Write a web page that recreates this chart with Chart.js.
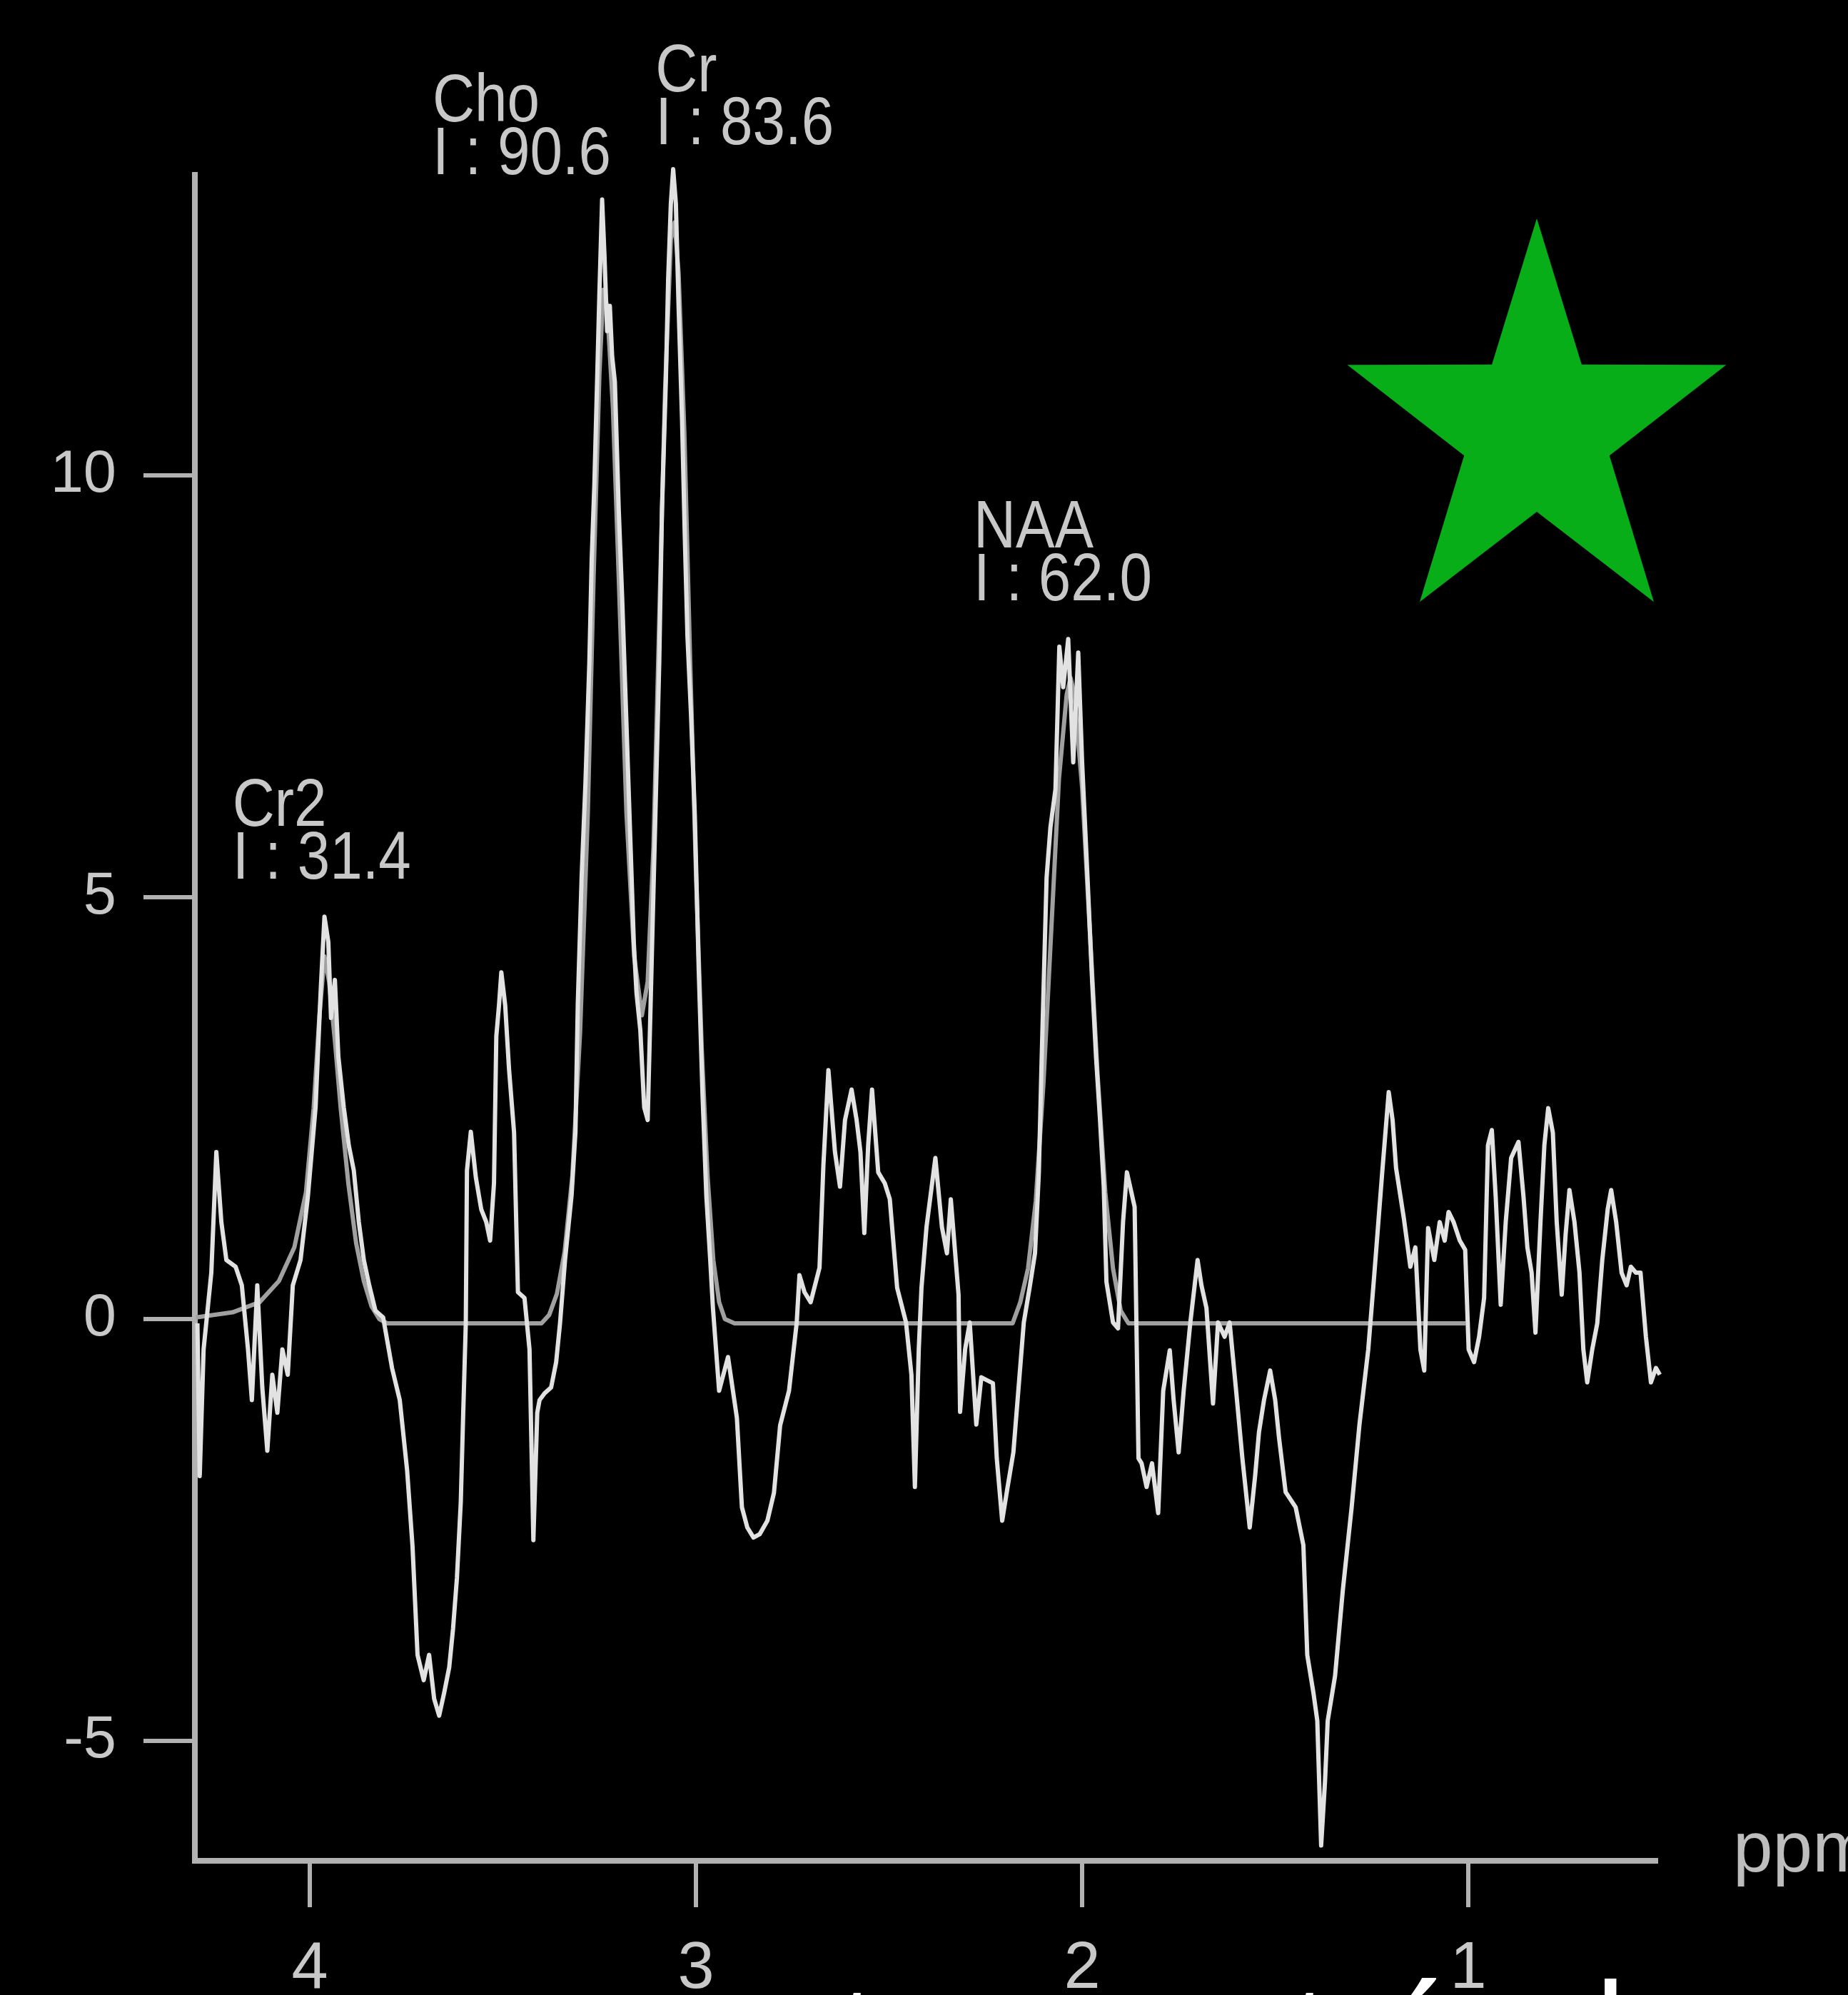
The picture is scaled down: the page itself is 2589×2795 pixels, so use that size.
<!DOCTYPE html>
<html>
<head>
<meta charset="utf-8">
<style>
  html, body { margin: 0; padding: 0; background: #000; overflow: hidden; }
  canvas { display: block; }
</style>
<script src="https://cdn.jsdelivr.net/npm/chart.js@4.4.1/dist/chart.umd.min.js"></script>
</head>
<body>
<canvas id="c" width="2589" height="2795"></canvas>
<script>
// ---------- data ----------
const spectrumPpm = [
  4.291,4.285,4.275,4.255,4.242,4.229,4.216,4.192,4.176,4.160,4.150,4.136,4.123,4.110,4.097,4.084,4.071,4.057,4.044,4.024,
  4.005,3.985,3.972,3.962,3.952,3.945,3.935,3.926,3.912,3.899,3.886,3.873,3.860,3.846,3.830,3.810,3.787,3.767,3.748,3.734,
  3.721,3.705,3.691,3.678,3.665,3.652,3.639,3.629,3.619,3.609,3.603,3.596,3.593,3.583,3.570,3.556,3.543,3.533,3.523,3.517,
  3.510,3.504,3.494,3.484,3.471,3.461,3.444,3.431,3.421,3.411,3.405,3.392,3.375,3.362,3.352,3.339,3.322,3.312,3.306,3.296,
  3.286,3.276,3.270,3.263,3.256,3.250,3.243,3.237,3.230,3.223,3.217,3.210,3.200,3.191,3.181,3.171,3.161,3.154,3.144,3.134,
  3.125,3.115,3.105,3.095,3.088,3.078,3.072,3.065,3.059,3.052,3.045,3.036,3.029,3.022,3.013,3.003,2.993,2.983,2.973,2.963,
  2.956,2.940,2.917,2.894,2.881,2.867,2.851,2.835,2.815,2.798,2.782,2.759,2.739,2.732,2.719,2.703,2.680,2.670,2.657,2.640,
  2.627,2.614,2.597,2.584,2.574,2.564,2.554,2.544,2.528,2.511,2.498,2.479,2.456,2.442,2.433,2.423,2.416,2.403,2.380,2.363,
  2.350,2.340,2.320,2.316,2.303,2.291,2.274,2.261,2.244,2.231,2.221,2.207,2.194,2.178,2.151,2.135,2.122,2.112,2.105,2.092,
  2.082,2.069,2.059,2.049,2.036,2.023,2.010,2.000,1.986,1.974,1.964,1.954,1.944,1.937,1.920,1.907,1.894,1.884,1.864,1.854,
  1.846,1.833,1.819,1.803,1.790,1.773,1.763,1.750,1.737,1.720,1.701,1.691,1.678,1.661,1.648,1.631,1.618,1.602,1.585,1.566,
  1.552,1.542,1.529,1.513,1.500,1.490,1.473,1.447,1.427,1.417,1.401,1.391,1.381,1.371,1.364,1.345,1.325,1.302,1.282,1.259,
  1.243,1.223,1.206,1.196,1.187,1.167,1.150,1.137,1.124,1.114,1.104,1.088,1.074,1.061,1.051,1.038,1.022,1.008,0.999,0.985,
  0.972,0.959,0.949,0.939,0.929,0.916,0.903,0.889,0.870,0.857,0.847,0.836,0.826,0.813,0.803,0.793,0.781,0.771,0.758,0.748,
  0.738,0.725,0.712,0.702,0.692,0.679,0.666,0.653,0.639,0.630,0.617,0.603,0.590,0.579,0.566,0.554,0.540,0.527,0.514,0.504
];
const spectrumVal = [
  -0.05,-1.86,-0.36,0.55,1.98,1.15,0.70,0.62,0.40,-0.36,-0.96,0.40,-0.81,-1.56,-0.66,-1.11,-0.36,-0.66,0.40,0.70,
  1.45,2.51,3.87,4.77,4.47,3.57,4.02,3.11,2.51,2.06,1.76,1.15,0.70,0.40,0.10,0.02,-0.58,-0.96,-1.79,-2.69,
  -3.98,-4.28,-3.98,-4.50,-4.70,-4.43,-4.13,-3.67,-3.07,-2.17,-1.17,-0.05,1.76,2.22,1.68,1.30,1.15,0.93,1.61,3.35,
  3.72,4.11,3.72,2.96,2.21,0.32,0.25,-0.36,-2.62,-1.11,-0.96,-0.88,-0.81,-0.51,-0.05,0.70,1.47,2.22,3.73,5.24,
  6.37,7.79,9.00,9.90,11.11,12.16,13.27,12.62,11.71,12.01,11.41,11.11,9.60,8.54,7.19,5.83,4.47,3.87,3.42,2.51,
  2.36,4.17,5.98,7.79,9.60,11.11,12.32,13.22,13.63,13.22,12.01,10.66,9.30,8.09,7.19,5.98,4.17,2.66,1.45,0.70,
  0.13,-0.85,-0.45,-1.17,-2.23,-2.47,-2.59,-2.55,-2.39,-2.06,-1.26,-0.85,-0.04,0.52,0.32,0.20,0.61,1.82,2.95,1.98,
  1.57,2.36,2.72,2.36,1.98,1.02,2.06,2.72,1.74,1.61,1.42,0.37,-0.04,-0.66,-1.99,-0.36,0.37,1.09,1.91,1.09,
  0.78,1.42,0.29,-1.10,-0.36,-0.04,-1.25,-0.69,-0.73,-0.76,-1.65,-2.39,-2.02,-1.58,-0.04,0.40,0.78,1.74,3.04,5.23,
  5.83,6.28,7.97,7.49,8.06,6.60,7.90,6.60,5.23,4.00,3.11,2.39,1.57,0.44,-0.04,-0.11,1.15,1.74,1.33,-1.65,
  -1.71,-1.99,-1.71,-2.30,-0.85,-0.37,-0.96,-1.58,-0.85,-0.05,0.70,0.40,0.13,-1.00,-0.04,-0.21,-0.04,-0.81,-1.65,-2.47,
  -1.86,-1.34,-0.96,-0.61,-0.96,-1.41,-2.05,-2.23,-2.68,-3.98,-4.43,-4.76,-6.24,-5.48,-4.76,-4.23,-3.22,-2.23,-1.26,-0.36,
  0.55,1.73,2.69,2.36,1.79,1.20,0.62,0.85,-0.36,-0.61,1.08,0.70,1.15,0.93,1.27,1.15,0.93,0.82,-0.36,-0.51,
  -0.21,0.25,2.06,2.24,1.45,0.17,1.15,1.91,2.10,1.45,0.85,0.55,-0.16,1.15,2.06,2.50,2.21,1.15,0.29,1.00,
  1.53,1.15,0.55,-0.36,-0.75,-0.36,-0.05,0.70,1.30,1.53,1.15,0.55,0.40,0.62,0.55,0.55,-0.21,-0.75,-0.58,-0.66
];
const fitPpm = [
  4.295,4.20,4.13,4.08,4.04,4.01,3.99,3.975,3.962,3.95,3.935,3.92,3.90,3.88,3.86,3.84,3.82,3.80,
  3.40,3.38,3.36,3.34,3.32,3.30,3.28,3.265,3.25,3.24,3.23,3.215,3.20,3.18,3.16,3.14,3.125,3.11,3.095,3.08,
  3.065,3.055,3.045,3.03,3.015,3.00,2.985,2.97,2.955,2.94,2.925,2.90,
  2.18,2.16,2.14,2.12,2.10,2.08,2.06,2.04,2.03,2.02,2.00,1.98,1.96,1.94,1.92,1.90,1.88,1.007
];
const fitVal = [
  0.02,0.08,0.20,0.45,0.85,1.50,2.50,3.60,4.30,4.00,3.30,2.50,1.60,0.90,0.45,0.15,0.00,-0.05,
  -0.05,0.05,0.30,0.80,1.70,3.40,6.00,8.80,11.20,12.20,12.00,10.80,8.80,6.00,4.30,3.60,4.00,5.60,8.30,11.00,
  12.80,13.00,12.40,10.50,7.80,5.30,3.20,1.70,0.70,0.20,0.00,-0.05,
  -0.05,0.20,0.60,1.40,2.80,4.60,6.40,7.40,7.60,7.40,6.30,4.60,2.90,1.50,0.60,0.10,-0.05,-0.05
];
const xTickValues = [4, 3, 2, 1];
const yTickValues = [10, 5, 0, -5];
const peakNames = ['Cr2', 'Cho', 'Cr', 'NAA'];
const peakIntegrals = [31.4, 90.6, 83.6, 62.0];
const xAxisLabel = 'ppm';
const captionGlyphs = ['t', 't', 'á', 'l'];

// ---------- layout / style (not data) ----------
const W = 2589, H = 2795;
const AREA = { left: 273, top: 245, right: 2320, bottom: 2607 };
const labelAnchors = [ // ppm, value of first-line baseline (left edge)
  { ppm: 4.200, val: 5.85 },
  { ppm: 3.682, val: 14.20 },
  { ppm: 3.105, val: 14.55 },
  { ppm: 2.281, val: 9.15 }
];
const axisColor = '#b2b2b2';
const textColor = '#c8c8c8';

const decorPlugin = {
  id: 'decor',
  beforeDraw(chart) {
    const ctx = chart.ctx;
    ctx.save();
    ctx.fillStyle = '#000';
    ctx.fillRect(0, 0, chart.width, chart.height);
    ctx.restore();
  },
  afterDraw(chart) {
    const ctx = chart.ctx;
    const xs = chart.scales.x, ys = chart.scales.y;
    ctx.save();
    // peak annotations
    ctx.fillStyle = textColor;
    ctx.font = '94px "Liberation Sans", Arial, sans-serif';
    ctx.textBaseline = 'alphabetic';
    ctx.textAlign = 'left';
    peakNames.forEach((name, i) => {
      const a = labelAnchors[i];
      const px = xs.getPixelForValue(a.ppm);
      const py = ys.getPixelForValue(a.val);
      const lines = [name, 'I : ' + peakIntegrals[i].toFixed(1)];
      lines.forEach((t, j) => {
        ctx.save();
        ctx.translate(px, py + j * 74);
        ctx.scale(0.87, 1);
        ctx.fillText(t, 0, 0);
        ctx.restore();
      });
    });
    // axis unit label
    ctx.fillStyle = '#bdbdbd';
    ctx.font = '100px "Liberation Sans", Arial, sans-serif';
    ctx.fillText(xAxisLabel, 2428, 2622);

    // green star
    const cx = 2153, cy = 603, Rx = 279, Ry = 297, rx = 107, ry = 114;
    ctx.beginPath();
    for (let k = 0; k < 10; k++) {
      const ang = -Math.PI / 2 + k * Math.PI / 5;
      const outer = k % 2 === 0;
      const x = cx + Math.cos(ang) * (outer ? Rx : rx);
      const y = cy + Math.sin(ang) * (outer ? Ry : ry);
      if (k === 0) ctx.moveTo(x, y); else ctx.lineTo(x, y);
    }
    ctx.closePath();
    ctx.fillStyle = '#07ae17';
    ctx.fill();

    // caption glyph tops peeking in at the bottom edge
    ctx.fillStyle = '#ffffff';
    ctx.font = '200px "Open Sans", "Noto Sans", sans-serif';
    const gx = [1171, 1805, 1928, 2231];
    captionGlyphs.forEach((g, i) => ctx.fillText(g, gx[i], 2924));
    ctx.restore();
  }
};

Chart.defaults.font.family = '"Liberation Sans", Arial, sans-serif';

new Chart(document.getElementById('c'), {
  type: 'scatter',
  data: {
    datasets: [
      {
        label: 'spectrum',
        data: spectrumPpm.map((x, i) => ({ x, y: spectrumVal[i] })),
        showLine: true,
        borderColor: '#e2e2e2',
        borderWidth: 6,
        borderJoinStyle: 'round',
        pointRadius: 0,
        tension: 0,
        clip: false,
        order: 1
      },
      {
        label: 'fit',
        data: fitPpm.map((x, i) => ({ x, y: fitVal[i] })),
        showLine: true,
        borderColor: '#a0a0a0',
        borderWidth: 6,
        borderJoinStyle: 'round',
        pointRadius: 0,
        tension: 0,
        clip: false,
        order: 2
      }
    ]
  },
  options: {
    responsive: false,
    animation: false,
    devicePixelRatio: 1,
    layout: { padding: { left: 0, top: AREA.top, right: W - AREA.right, bottom: 0 } },
    plugins: { legend: { display: false }, tooltip: { enabled: false } },
    scales: {
      x: {
        type: 'linear',
        position: 'bottom',
        reverse: true,
        min: 0.5139,
        max: 4.2976,
        afterBuildTicks: s => { s.ticks = xTickValues.map(v => ({ value: v })); },
        afterFit: s => { s.height = H - AREA.bottom; },
        grid: { display: true, drawOnChartArea: false, drawTicks: true, tickLength: 65, tickWidth: 6, lineWidth: 6, color: axisColor, tickColor: axisColor },
        border: { display: true, color: axisColor, width: 8 },
        ticks: { color: textColor, font: { size: 92 }, padding: 32, maxRotation: 0, autoSkip: false }
      },
      y: {
        type: 'linear',
        position: 'left',
        min: -6.421,
        max: 13.562,
        afterBuildTicks: s => { s.ticks = yTickValues.map(v => ({ value: v })); },
        afterFit: s => { s.width = AREA.left; },
        grid: { display: true, drawOnChartArea: false, drawTicks: true, tickLength: 72, tickWidth: 6, lineWidth: 6, color: axisColor, tickColor: axisColor },
        border: { display: true, color: axisColor, width: 8 },
        ticks: { color: textColor, font: { size: 83 }, padding: 38, autoSkip: false }
      }
    }
  },
  plugins: [decorPlugin]
});
</script>
</body>
</html>
